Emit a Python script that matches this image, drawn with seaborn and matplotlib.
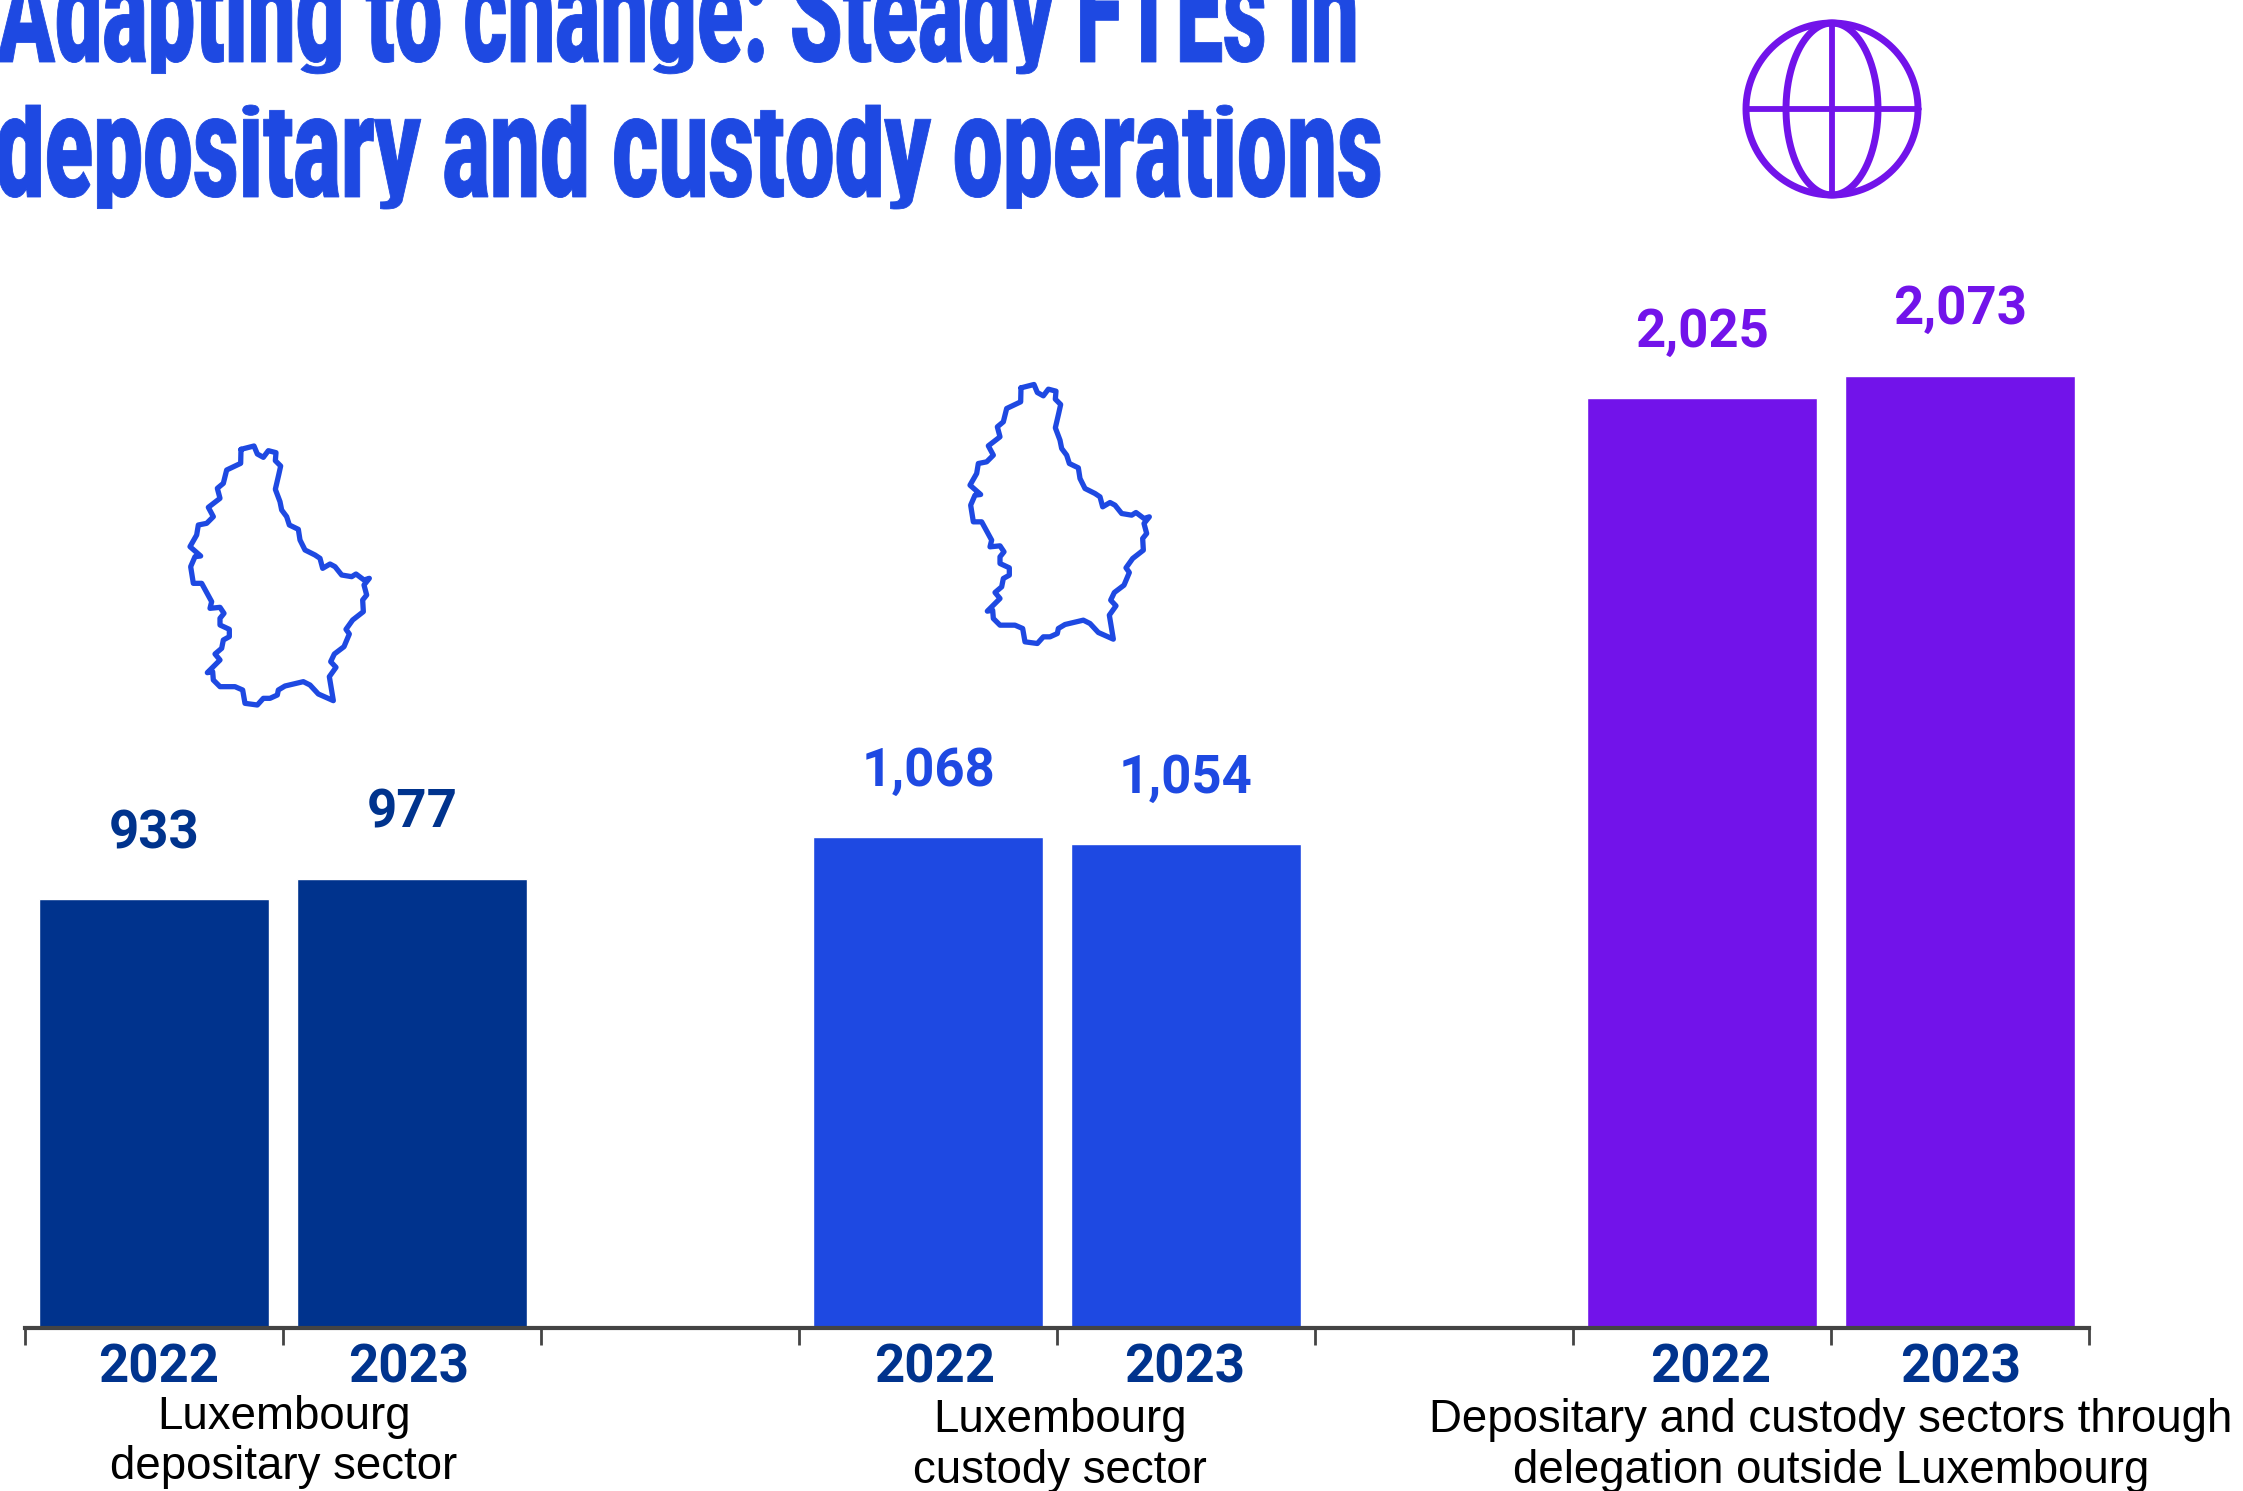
import numpy as np
import pandas as pd
import seaborn as sns
import matplotlib
matplotlib.use("Agg")
import matplotlib.pyplot as plt
import matplotlib.text as mtext
from matplotlib.path import Path
from matplotlib.textpath import TextPath
from matplotlib.transforms import Affine2D, Bbox
from matplotlib.font_manager import FontProperties

# ---------- data ----------
sectors = ["Luxembourg\ndepositary sector", "Luxembourg\ncustody sector",
           "Depositary and custody sectors through\ndelegation outside Luxembourg"]
years = ["2022", "2023"]
depositary_fte = [933, 977]
custody_fte = [1068, 1054]
delegation_fte = [2025, 2073]
title_lines = ["Adapting to change: Steady FTEs in", "depositary and custody operations"]

DARK, BLUE, PURPLE = "#00338D", "#1E49E2", "#7213EA"

# outline of Luxembourg (decorative icon, in pixels of the icon)
lux_x = [213,252,262,280,295,318,316,332,326,316,330,335,350,358,385,390,405,435,450,458,480,495,515,545,558,582,598,582,590,578,580,548,528,538,522,493,482,498,478,490,445,420,400,345,325,322,300,280,262,225,218,195,150,130,128,112,150,135,155,160,178,178,150,150,162,150,120,125,95,70,62,75,92,60,80,85,110,130,115,150,142,160,170,212,213]
lux_y = [58,48,72,82,62,68,92,108,135,178,215,240,260,285,298,330,360,375,385,415,402,410,435,440,432,450,445,465,495,510,545,570,598,612,650,672,695,712,740,812,792,765,755,768,780,795,805,805,825,820,780,770,770,750,725,728,690,672,655,630,620,598,585,565,550,532,535,515,460,460,410,380,378,350,315,285,280,260,232,205,175,160,120,100,58]

# ---------- table ----------
groups = [("dep", depositary_fte), ("cus", custody_fte), ("del", delegation_fte)]
rows, order = [], []
for gi, (name, vals) in enumerate(groups):
    for y, v in zip(years, vals):
        rows.append({"cat": f"{name} {y}", "series": name, "fte": v})
        order.append(f"{name} {y}")
    if gi < 2:
        order.append(f"gap {gi}")
df = pd.DataFrame(rows)

sns.set_theme(style="white", rc={"font.family": ["Roboto", "DejaVu Sans"]})

W, H = 2243, 1491
fig = plt.figure(figsize=(W / 100, H / 100), dpi=100, facecolor="white")
BASE, LEFT, RIGHT = 1328, 25, 2089
ax = fig.add_axes([LEFT / W, (H - BASE) / H, (RIGHT - LEFT) / W, BASE / H])

sns.barplot(data=df, x="cat", y="fte", hue="series", order=order,
            palette={"dep": DARK, "cus": BLUE, "del": PURPLE},
            width=0.89, dodge=False, errorbar=None, legend=False, saturation=1, ax=ax)

ax.set_xlim(-0.5, 7.5)
ax.set_ylim(0, 2891)
ax.set_xlabel("")
ax.set_ylabel("")
ax.set_yticks([])
ax.set_xticks(np.arange(-0.5, 8.0, 1.0), [""] * 9)
ax.tick_params(axis="x", length=12, width=2.0, color="#444444", bottom=True, pad=0)
for s in ["top", "left", "right"]:
    ax.spines[s].set_visible(False)
ax.spines["bottom"].set_color("#444444")
ax.spines["bottom"].set_linewidth(3.0)
ax.patch.set_alpha(0)

# value labels
for _, r in df.iterrows():
    i = order.index(r["cat"])
    col = {"dep": DARK, "cus": BLUE, "del": PURPLE}[r["series"]]
    ax.annotate(f"{r['fte']:,}", (i, r["fte"]), xytext=(0, 37), textcoords="offset points",
                ha="center", va="baseline", fontsize=38, fontweight="bold", color=col)


class SqueezedText(mtext.Text):
    """Real text drawn condensed: fit to a pixel width, with its vertical
    zones (descender, x-height, ascender) fit to pixel heights."""
    target_width = 1000
    stroke = 0.0
    zones_em = (-0.21, 0.0, 0.53, 0.74)
    zones_px = (-12, 0, 78, 92)

    def _layout_path(self):
        fp = self.get_fontproperties()
        size = self.get_fontsize()
        raw = TextPath((0, 0), self.get_text(), size=size, prop=fp)
        box = raw.get_extents()
        sx = self.target_width / box.width
        px, py = self.get_transform().transform(self.get_position())
        v = np.array(raw.vertices, dtype=float)
        x = (v[:, 0] - box.x0) * sx + px
        src = np.array(self.zones_em) * size
        y = np.interp(v[:, 1], src, self.zones_px) + py
        return Path(np.column_stack([x, y]), raw.codes)

    def get_window_extent(self, renderer=None, dpi=None):
        b = self._layout_path().get_extents()
        return Bbox.from_extents(b.x0, b.y0, b.x1, b.y1)

    def draw(self, renderer):
        if not self.get_visible():
            return
        path = self._layout_path()
        gc = renderer.new_gc()
        gc.set_foreground(self.get_color())
        gc.set_linewidth(self.stroke)
        gc.set_antialiased(True)
        gc.set_clip_rectangle(self.figure.bbox)
        renderer.draw_path(gc, path, Affine2D(), matplotlib.colors.to_rgba(self.get_color()))
        gc.restore()


# overlay in pixel coordinates for annotations and icons
ov = fig.add_axes([0, 0, 1, 1], zorder=5)
ov.set_xlim(0, W)
ov.set_ylim(H, 0)
ov.axis("off")
ov.patch.set_alpha(0)

# title
for line, (x0, base, tw) in zip(title_lines, [(-3, 62, 1358), (-3, 197, 1383)]):
    t = SqueezedText(x0, base, line, color=BLUE, fontsize=94,
                     fontproperties=FontProperties(family="Roboto", weight="black", size=94),
                     transform=ov.transData)
    t.target_width = tw
    t.stroke = 0.6
    ov.add_artist(t)

# year tick labels
year_x = [159, 409, 935, 1185, 1711, 1961]
for i, x in enumerate(year_x):
    ov.text(x, 1368, years[i % 2], ha="center", va="center", fontsize=38,
            fontweight="bold", color=DARK)

# sector labels
sector_pos = [(284, 1417, 1467), (1060, 1420, 1471), (1831, 1420, 1471)]
for label, (x, y1, y2) in zip(sectors, sector_pos):
    l1, l2 = label.split("\n")
    ov.text(x, y1, l1, ha="center", va="center", fontsize=32.9, color="black",
            family=["Liberation Sans", "DejaVu Sans"])
    ov.text(x, y2, l2, ha="center", va="center", fontsize=32.9, color="black",
            family=["Liberation Sans", "DejaVu Sans"])

# Luxembourg icons
lx = np.array(lux_x) / 3
ly = np.array(lux_y) / 3
for dx, dy in [(170, 430), (950, 368.5)]:
    ov.plot(lx + dx, ly + dy, color=BLUE, lw=3.8, solid_joinstyle="round")

# globe icon
cx, cy, R = 1832, 109, 86
th = np.linspace(0, 2 * np.pi, 361)
ov.plot(cx + R * np.cos(th), cy + R * np.sin(th), color=PURPLE, lw=5)
ov.plot(cx + 46 * np.cos(th), cy + R * np.sin(th), color=PURPLE, lw=5)
ov.plot([cx, cx], [cy - R, cy + R], color=PURPLE, lw=4.2)
ov.plot([cx - R, cx + R], [cy, cy], color=PURPLE, lw=4.2)

fig.savefig("out.png", dpi=100)
